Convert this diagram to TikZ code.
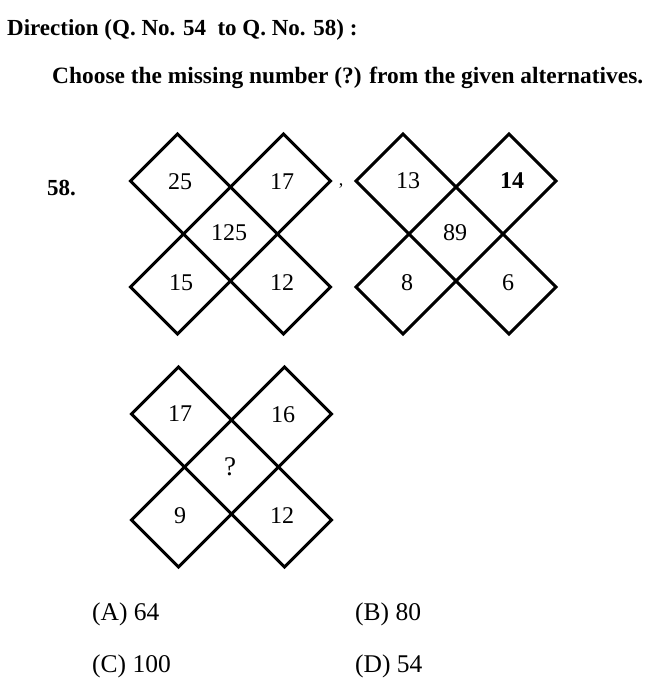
\documentclass[tikz,border=0pt]{standalone}
\usepackage{fontspec}
\setmainfont{Liberation Serif}
\begin{document}
\begin{tikzpicture}[x=1pt,y=-1pt,
  xline/.style={line width=3pt, line join=miter, black},
  numtxt/.style={inner sep=0pt, font=\fontsize{24}{28}\selectfont},
  headtxt/.style={inner sep=0pt, anchor=base west, font=\fontsize{23}{27}\selectfont\bfseries},
  opttxt/.style={inner sep=0pt, anchor=base west, font=\fontsize{25.5}{30}\selectfont},
  xcross/.pic={
    \draw[xline] (-53,-100) -- (100,53) -- (53,100) -- (-100,-53) -- cycle;
    \draw[xline] (53,-100) -- (100,-53) -- (-53,100) -- (-100,53) -- cycle;
  }]
\useasboundingbox (0,0) rectangle (656,686);
\fill[white] (0,0) rectangle (656,686);

\node[headtxt] (head) at (7,35) {Direction (Q. No. 54\ \ to Q. No. 58) :};
\node[headtxt, font=\fontsize{23.4}{27}\selectfont\bfseries] (instr) at (52,83) {Choose the missing number (?) from the given alternatives.};
\node[headtxt] (qno) at (47,195) {58.};

\pic at (230.5,234) {xcross};
\pic at (456,234) {xcross};
\pic at (231.5,467) {xcross};

% figure 1
\node[numtxt] (a1) at (180,182) {25};
\node[numtxt] (a2) at (282,182) {17};
\node[numtxt] (a3) at (229,233) {125};
\node[numtxt] (a4) at (181,283) {15};
\node[numtxt] (a5) at (282,283) {12};
\node[inner sep=0pt, font=\fontsize{18}{20}\selectfont] (comma) at (341,186) {,};
% figure 2
\node[numtxt] (b1) at (408,181) {13};
\node[numtxt] (b2) at (512,181) {\textbf{14}};
\node[numtxt] (b3) at (455,233) {89};
\node[numtxt] (b4) at (407,283) {8};
\node[numtxt] (b5) at (508,283) {6};
% figure 3
\node[numtxt] (c1) at (180,414) {17};
\node[numtxt] (c2) at (283,415) {16};
\node[numtxt, font=\fontsize{27}{30}\selectfont] (c3) at (230,467) {?};
\node[numtxt] (c4) at (180,516) {9};
\node[numtxt] (c5) at (282,516) {12};

% options
\node[opttxt] (oa) at (92,620) {(A) 64};
\node[opttxt] (ob) at (355,620) {(B) 80};
\node[opttxt] (oc) at (92,672) {(C) 100};
\node[opttxt] (od) at (355,672) {(D) 54};
\end{tikzpicture}
\end{document}
